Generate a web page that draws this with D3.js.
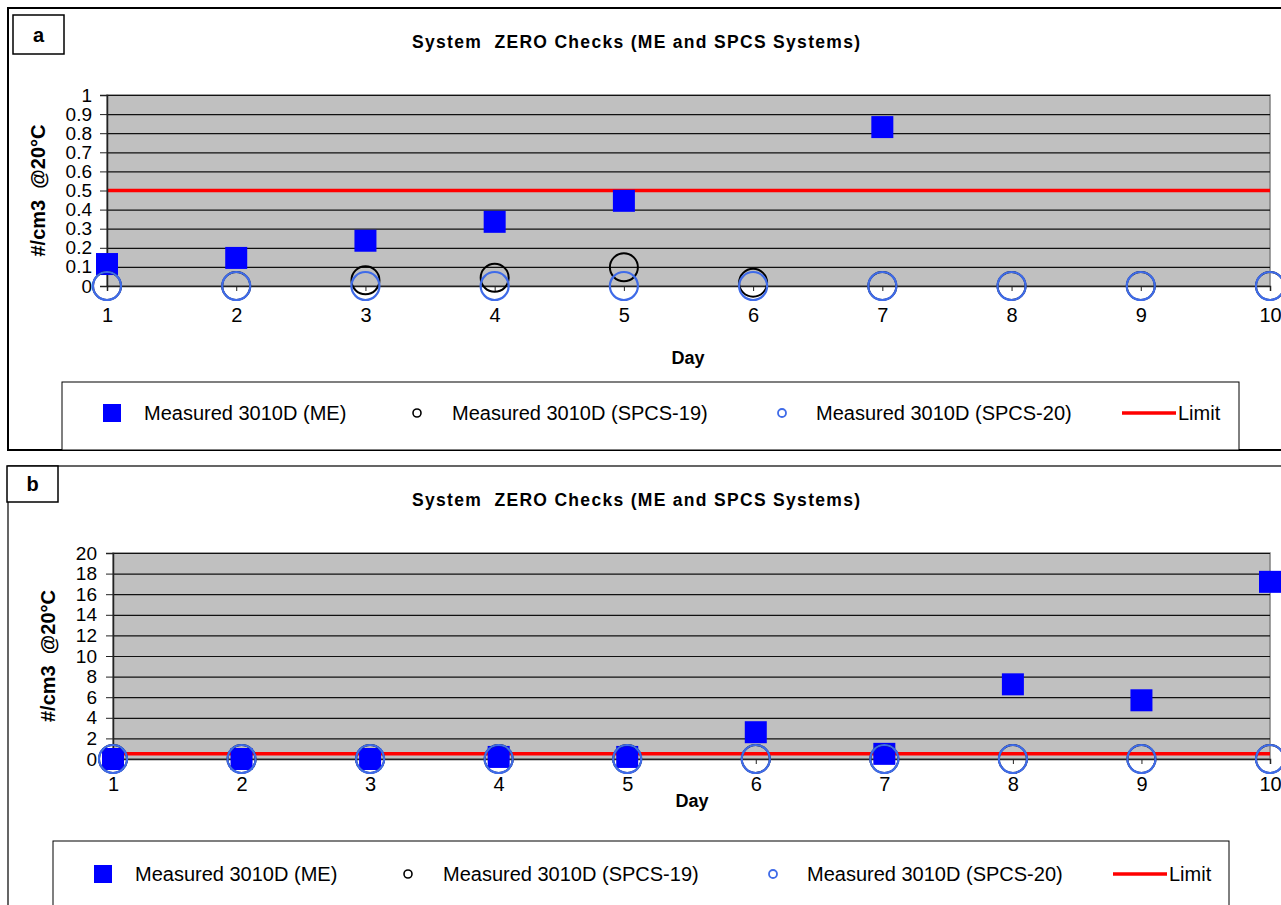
<!DOCTYPE html>
<html>
<head>
<meta charset="utf-8">
<script src="https://cdn.jsdelivr.net/npm/d3@7"></script>
<style>
    body { margin: 0; background: #fff; }
    svg { display: block; font-family: "Liberation Sans", Arial, sans-serif; }
</style>
</head>
<body>
<svg id="chart" width="1281" height="905"></svg>
<script>
/*jslint browser: true*/

var days = [1, 2, 3, 4, 5, 6, 7, 8, 9, 10];

// panel a
var meA = [0.115, 0.147, 0.237, 0.336, 0.446, null, 0.832, null, null, null];
var spcs19A = [0, 0, 0.03, 0.043, 0.098, 0.017, 0, 0, 0, 0];
var spcs20A = [0, 0, 0, 0, 0, 0, 0, 0, 0, 0];
var ticksA = [0, 0.1, 0.2, 0.3, 0.4, 0.5, 0.6, 0.7, 0.8, 0.9, 1];

// panel b
var meB = [0, 0, 0, 0.2, 0.2, 2.6, 0.5, 7.25, 5.7, 17.2];
var spcs19B = [0, 0, 0, 0, 0, 0, 0, 0, 0, 0];
var spcs20B = [0, 0, 0, 0, 0, 0, 0, 0, 0, 0];
var ticksB = [0, 2, 4, 6, 8, 10, 12, 14, 16, 18, 20];

var limit = 0.5;
var title = 'System  ZERO Checks (ME and SPCS Systems)';
var yTitle = '#/cm3  @20°C';
var xTitle = 'Day';
var seriesNames = ['Measured 3010D (ME)', 'Measured 3010D (SPCS-19)', 'Measured 3010D (SPCS-20)', 'Limit'];

(function (d3) {
    'use strict';

    var svg = d3.select('#chart');
    var BLUE = '#0000FF', RING = '#3F6BE8', RED = '#FF0000';

    function pairs(vals) {
        return days.map(function (d, i) { return {day: d, v: vals[i]}; })
            .filter(function (p) { return p.v !== null; });
    }

    function drawPanel(cfg) {
        var g = svg.append('g');

        // outer frame and tag box
        g.append('rect')
            .attr('x', cfg.frame[0]).attr('y', cfg.frame[1])
            .attr('width', 1400).attr('height', cfg.frame[2])
            .attr('fill', 'none').attr('stroke', '#000').attr('stroke-width', cfg.frameW);
        g.append('rect')
            .attr('x', cfg.tag[0]).attr('y', cfg.tag[1])
            .attr('width', cfg.tag[2]).attr('height', cfg.tag[3])
            .attr('fill', '#fff').attr('stroke', '#000').attr('stroke-width', 1.5);
        g.append('text')
            .attr('x', cfg.tag[0] + cfg.tag[2] / 2).attr('y', cfg.tag[1] + cfg.tag[3] / 2 + 7)
            .attr('text-anchor', 'middle')
            .style('font-size', '20px').style('font-weight', 'bold')
            .text(cfg.name);

        g.append('text')
            .attr('x', 636).attr('y', cfg.titleY)
            .attr('text-anchor', 'middle')
            .attr('textLength', 448).attr('lengthAdjust', 'spacing')
            .style('font-size', '17.5px').style('font-weight', 'bold')
            .style('white-space', 'pre')
            .text(title);

        var x = d3.scaleLinear().domain([1, 10]).range([cfg.x0, 1270]);
        var y = d3.scaleLinear().domain([0, cfg.yMax]).range([cfg.yBot, cfg.yTop]);

        g.append('rect')
            .attr('x', cfg.x0).attr('y', cfg.yTop)
            .attr('width', 1270 - cfg.x0).attr('height', cfg.yBot - cfg.yTop)
            .attr('fill', '#C0C0C0').attr('stroke', '#808080').attr('stroke-width', 1.5);

        // gridlines
        g.append('g')
            .attr('transform', 'translate(' + cfg.x0 + ',0)')
            .call(d3.axisLeft(y).tickValues(cfg.ticks).tickSize(-(1270 - cfg.x0)).tickFormat(''))
            .call(function (s) {
                s.select('.domain').remove();
                s.selectAll('line').attr('stroke', '#111').attr('stroke-width', 1.2);
            });

        // limit line
        g.append('line')
            .attr('x1', x(1)).attr('x2', x(10))
            .attr('y1', y(limit)).attr('y2', y(limit))
            .attr('stroke', RED).attr('stroke-width', 3.5);

        // axes
        g.append('g')
            .attr('transform', 'translate(' + cfg.x0 + ',0)')
            .call(d3.axisLeft(y).tickValues(cfg.ticks).tickSize(7).tickPadding(cfg.yPad)
                .tickFormat(cfg.fmt))
            .call(function (s) {
                s.select('.domain').attr('stroke', '#222').attr('stroke-width', 1.5);
                s.selectAll('line').attr('stroke', '#222');
                s.selectAll('text').style('font-size', cfg.yFont).attr('fill', '#000')
                    .style('font-family', '"Liberation Sans", Arial, sans-serif');
            });
        g.append('g')
            .attr('transform', 'translate(0,' + cfg.yBot + ')')
            .call(d3.axisBottom(x).tickValues(days).tickSize(5).tickPadding(cfg.xPad)
                .tickFormat(d3.format('d')))
            .call(function (s) {
                s.select('.domain').attr('stroke', '#222').attr('stroke-width', 1.5);
                s.selectAll('line').attr('stroke', '#222');
                s.selectAll('text').style('font-size', '20px').attr('fill', '#000')
                    .style('font-family', '"Liberation Sans", Arial, sans-serif');
            });

        g.append('text')
            .attr('x', cfg.dayX).attr('y', cfg.dayY)
            .attr('text-anchor', 'middle')
            .style('font-size', '18px').style('font-weight', 'bold')
            .text(xTitle);
        g.append('text')
            .attr('transform', 'translate(' + cfg.ylabX + ',' + ((cfg.yTop + cfg.yBot) / 2) + ') rotate(-90)')
            .attr('text-anchor', 'middle').attr('dy', '0.35em')
            .style('font-size', '20px').style('font-weight', 'bold')
            .style('white-space', 'pre')
            .text(yTitle);

        // markers
        g.append('g').selectAll('rect')
            .data(pairs(cfg.me)).enter()
          .append('rect')
            .attr('x', function (d) { return x(d.day) - 11; })
            .attr('y', function (d) { return y(d.v) - 11; })
            .attr('width', 22).attr('height', 22)
            .attr('fill', BLUE);
        g.append('g').selectAll('circle')
            .data(pairs(cfg.s19)).enter()
          .append('circle')
            .attr('cx', function (d) { return x(d.day); })
            .attr('cy', function (d) { return y(d.v); })
            .attr('r', 14).attr('fill', 'none')
            .attr('stroke', '#000').attr('stroke-width', 2);
        g.append('g').selectAll('circle')
            .data(pairs(cfg.s20)).enter()
          .append('circle')
            .attr('cx', function (d) { return x(d.day); })
            .attr('cy', function (d) { return y(d.v); })
            .attr('r', 14).attr('fill', 'none')
            .attr('stroke', RING).attr('stroke-width', 2.2);

        // legend
        var L = cfg.legend, ly = L[1] + cfg.legendMid;
        g.append('rect')
            .attr('x', L[0]).attr('y', L[1]).attr('width', L[2]).attr('height', L[3])
            .attr('fill', '#fff').attr('stroke', '#000').attr('stroke-width', 1);
        g.append('rect')
            .attr('x', L[0] + 41).attr('y', ly - 9).attr('width', 18).attr('height', 18)
            .attr('fill', BLUE);
        g.append('circle')
            .attr('cx', L[0] + 355).attr('cy', ly).attr('r', 4)
            .attr('fill', 'none').attr('stroke', '#000').attr('stroke-width', 1.6);
        g.append('circle')
            .attr('cx', L[0] + 720).attr('cy', ly).attr('r', 4)
            .attr('fill', 'none').attr('stroke', RING).attr('stroke-width', 1.8);
        g.append('line')
            .attr('x1', L[0] + 1060).attr('x2', L[0] + 1114)
            .attr('y1', ly).attr('y2', ly)
            .attr('stroke', RED).attr('stroke-width', 3.5);
        var textX = [82, 390, 754, 1116];
        g.append('g').selectAll('text')
            .data(seriesNames).enter()
          .append('text')
            .attr('x', function (d, i) { return L[0] + textX[i]; })
            .attr('y', ly + 7)
            .style('font-size', '20px')
            .text(function (d) { return d; });
    }

    drawPanel({
        name: 'a', frame: [8, 8, 442], frameW: 2, tag: [13, 15, 51, 39], titleY: 48,
        x0: 107, yTop: 95, yBot: 286, yMax: 1, ticks: ticksA, fmt: d3.format('~g'), yPad: 8,
        yFont: '19px', xPad: 17, dayX: 688, dayY: 364, ylabX: 38,
        me: meA, s19: spcs19A, s20: spcs20A,
        legend: [62, 382, 1177, 68], legendMid: 31
    });
    drawPanel({
        name: 'b', frame: [8, 466, 600], frameW: 1.2, tag: [7, 466, 51, 36], titleY: 506,
        x0: 113, yTop: 553, yBot: 759, yMax: 20, ticks: ticksB, fmt: d3.format('d'), yPad: 9,
        yFont: '19px', xPad: 13, dayX: 692, dayY: 807, ylabX: 48,
        me: meB, s19: spcs19B, s20: spcs20B,
        legend: [53, 841, 1176, 120], legendMid: 33
    });

}(window.d3));
</script>
</body>
</html>
